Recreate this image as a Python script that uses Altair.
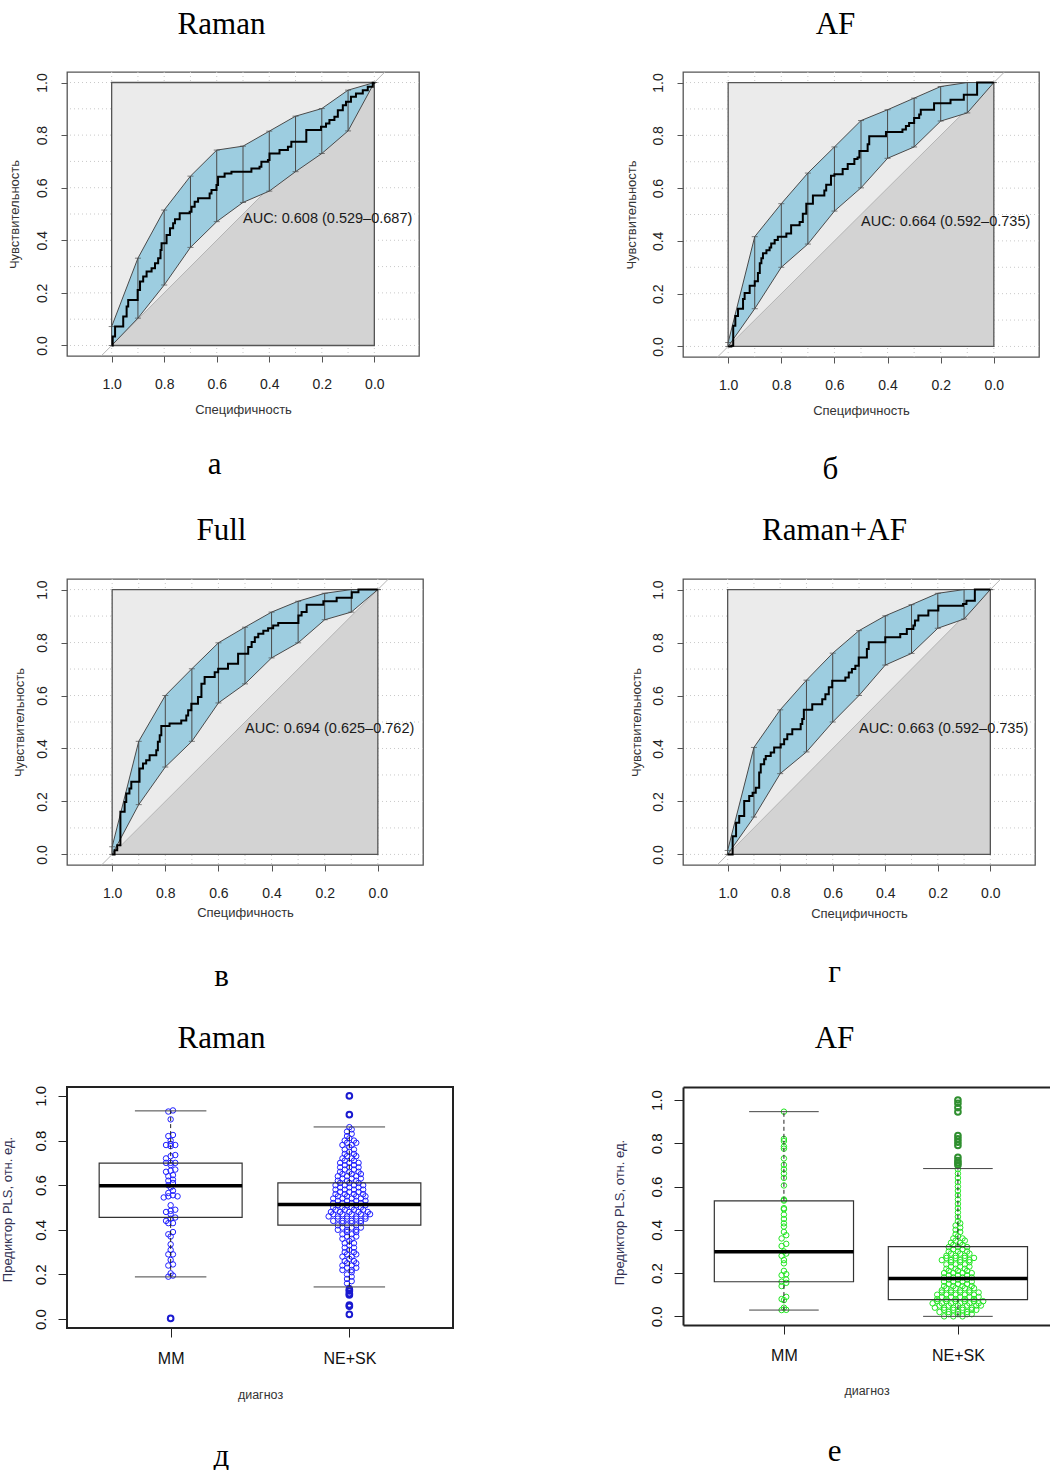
import altair as alt
import pandas as pd

SANS = "Liberation Sans"
SERIF = "Liberation Serif"

# ---------------- texts ----------------
roc_x_title = "Специфичность"
roc_y_title = "Чувствительность"
box_x_title = "диагноз"
box_y_title = "Предиктор PLS, отн. ед."
groups = ["MM", "NE+SK"]

# ---------------- common axis values ----------------
tick_vals = [0.0, 0.2, 0.4, 0.6, 0.8, 1.0]
grid_vals = [0.0, 0.1, 0.2, 0.3, 0.4, 0.5, 0.6, 0.7, 0.8, 0.9, 1.0]
band_spec = [1.0, 0.9, 0.8, 0.7, 0.6, 0.5, 0.4, 0.3, 0.2, 0.1, 0.0]
square_x = [0.0, 1.0]
square_y = [0.0, 1.0]
roc_xlim = [-0.17, 1.17]
roc_ylim = [-0.04, 1.04]

# ---------------- ROC: Raman ----------------
raman_spec = [1.0, 0.996, 0.987, 0.956, 0.943, 0.937, 0.901, 0.892, 0.880, 0.867, 0.848, 0.835,
              0.823, 0.814, 0.810, 0.791, 0.778, 0.766, 0.759, 0.741, 0.703, 0.696, 0.684, 0.671,
              0.627, 0.620, 0.601, 0.595, 0.570, 0.544, 0.468, 0.437, 0.430, 0.405, 0.399, 0.361,
              0.329, 0.316, 0.259, 0.203, 0.184, 0.171, 0.152, 0.139, 0.120, 0.108, 0.089, 0.070,
              0.044, 0.025, 0.006, 0.0]
raman_sens = [0.0, 0.034, 0.072, 0.110, 0.148, 0.173, 0.211, 0.243, 0.262, 0.281, 0.294, 0.313,
              0.332, 0.363, 0.389, 0.420, 0.446, 0.465, 0.480, 0.503, 0.509, 0.528, 0.547, 0.560,
              0.578, 0.591, 0.610, 0.642, 0.654, 0.661, 0.673, 0.680, 0.699, 0.705, 0.730, 0.743,
              0.756, 0.775, 0.819, 0.832, 0.844, 0.857, 0.870, 0.895, 0.914, 0.927, 0.946, 0.958,
              0.971, 0.984, 0.999, 1.0]
raman_low = [0.0, 0.104, 0.230, 0.373, 0.471, 0.544, 0.587, 0.661, 0.730, 0.816, 1.0]
raman_high = [0.072, 0.332, 0.515, 0.644, 0.743, 0.758, 0.815, 0.872, 0.901, 0.971, 1.0]
raman_auc = "AUC: 0.608 (0.529–0.687)"

# ---------------- ROC: AF ----------------
af_spec = [1.0, 0.988, 0.981, 0.973, 0.963, 0.944, 0.938, 0.919, 0.900, 0.888, 0.881, 0.875,
           0.869, 0.856, 0.844, 0.838, 0.825, 0.813, 0.781, 0.763, 0.731, 0.719, 0.706, 0.681,
           0.638, 0.631, 0.613, 0.600, 0.569, 0.550, 0.525, 0.513, 0.506, 0.475, 0.469, 0.406,
           0.344, 0.331, 0.319, 0.300, 0.281, 0.275, 0.225, 0.163, 0.113, 0.063, 0.0]
af_sens = [0.0, 0.003, 0.078, 0.115, 0.143, 0.180, 0.203, 0.230, 0.247, 0.278, 0.315, 0.334,
           0.353, 0.365, 0.375, 0.390, 0.403, 0.416, 0.428, 0.459, 0.472, 0.503, 0.541, 0.572,
           0.591, 0.613, 0.647, 0.653, 0.672, 0.691, 0.710, 0.716, 0.741, 0.766, 0.797, 0.813,
           0.822, 0.835, 0.847, 0.866, 0.879, 0.897, 0.922, 0.935, 0.954, 1.0, 1.0]
af_low = [0.0, 0.143, 0.300, 0.388, 0.513, 0.601, 0.713, 0.756, 0.854, 0.885, 1.0]
af_high = [0.015, 0.416, 0.541, 0.657, 0.756, 0.856, 0.897, 0.941, 0.985, 1.0, 1.0]
af_auc = "AUC: 0.664 (0.592–0.735)"

# ---------------- ROC: Full ----------------
full_spec = [1.0, 0.991, 0.981, 0.969, 0.953, 0.947, 0.935, 0.928, 0.897, 0.884, 0.872, 0.859,
             0.834, 0.828, 0.821, 0.815, 0.784, 0.740, 0.721, 0.714, 0.702, 0.677, 0.664, 0.652,
             0.614, 0.601, 0.564, 0.526, 0.488, 0.475, 0.463, 0.450, 0.431, 0.413, 0.394, 0.375,
             0.299, 0.287, 0.268, 0.205, 0.155, 0.098, 0.073, 0.0]
full_sens = [0.0, 0.016, 0.035, 0.161, 0.198, 0.230, 0.249, 0.274, 0.324, 0.343, 0.356, 0.374,
             0.393, 0.425, 0.450, 0.485, 0.494, 0.506, 0.525, 0.544, 0.569, 0.594, 0.644, 0.670,
             0.688, 0.701, 0.720, 0.758, 0.783, 0.802, 0.820, 0.833, 0.845, 0.854, 0.864, 0.874,
             0.902, 0.915, 0.943, 0.956, 0.969, 0.990, 1.0, 1.0]
full_low = [0.0, 0.188, 0.330, 0.427, 0.572, 0.644, 0.742, 0.799, 0.886, 0.915, 1.0]
full_high = [0.029, 0.427, 0.600, 0.701, 0.799, 0.858, 0.915, 0.956, 0.986, 1.0, 1.0]
full_auc = "AUC: 0.694 (0.625–0.762)"

# ---------------- ROC: Raman+AF ----------------
ra_spec = [1.0, 0.981, 0.968, 0.956, 0.937, 0.918, 0.905, 0.893, 0.880, 0.874, 0.861, 0.855,
           0.836, 0.823, 0.798, 0.785, 0.773, 0.754, 0.722, 0.716, 0.710, 0.678, 0.640, 0.628,
           0.615, 0.602, 0.552, 0.539, 0.527, 0.514, 0.501, 0.470, 0.463, 0.400, 0.343, 0.318,
           0.293, 0.287, 0.274, 0.236, 0.198, 0.104, 0.091, 0.059, 0.0]
ra_sens = [0.0, 0.069, 0.120, 0.145, 0.202, 0.221, 0.233, 0.252, 0.309, 0.340, 0.359, 0.372,
           0.385, 0.404, 0.416, 0.435, 0.454, 0.473, 0.492, 0.511, 0.546, 0.567, 0.586, 0.605,
           0.631, 0.656, 0.668, 0.687, 0.700, 0.712, 0.744, 0.776, 0.801, 0.820, 0.832, 0.851,
           0.864, 0.883, 0.902, 0.921, 0.939, 0.946, 0.958, 1.0, 1.0]
ra_low = [0.0, 0.141, 0.305, 0.387, 0.500, 0.600, 0.715, 0.759, 0.854, 0.889, 1.0]
ra_high = [0.015, 0.404, 0.546, 0.658, 0.760, 0.845, 0.901, 0.943, 0.986, 1.0, 1.0]
ra_auc = "AUC: 0.663 (0.592–0.735)"

auc_pos_x = [0.5, 0.5, 0.5, 0.5]
auc_pos_y = [0.48, 0.472, 0.475, 0.475]

# ---------------- Boxplot: Raman ----------------
box_raman_mm = [0.935, 0.93, 0.895, 0.825, 0.82, 0.80, 0.785, 0.78, 0.78, 0.775, 0.735, 0.73,
                0.72, 0.70, 0.70, 0.70, 0.69, 0.67, 0.665, 0.66, 0.645, 0.64, 0.625, 0.62, 0.61,
                0.60, 0.59, 0.575, 0.565, 0.555, 0.55, 0.55, 0.545, 0.51, 0.49, 0.485, 0.48, 0.47,
                0.455, 0.45, 0.44, 0.43, 0.43, 0.39, 0.38, 0.37, 0.335, 0.31, 0.29, 0.29, 0.265,
                0.245, 0.24, 0.205, 0.195, 0.19]
box_raman_ne_levels = [0.14, 0.15, 0.16, 0.17, 0.18, 0.19, 0.20, 0.21, 0.22, 0.23, 0.24, 0.25,
                       0.26, 0.27, 0.28, 0.29, 0.30, 0.31, 0.32, 0.33, 0.34, 0.35, 0.36, 0.37,
                       0.38, 0.39, 0.40, 0.41, 0.42, 0.43, 0.44, 0.45, 0.46, 0.47, 0.48, 0.49,
                       0.50, 0.51, 0.52, 0.53, 0.54, 0.55, 0.56, 0.57, 0.58, 0.59, 0.60, 0.61,
                       0.62, 0.63, 0.64, 0.65, 0.66, 0.67, 0.68, 0.69, 0.70, 0.71, 0.72, 0.73,
                       0.74, 0.75, 0.76, 0.77, 0.78, 0.79, 0.80, 0.81, 0.82, 0.83, 0.84, 0.85, 0.86]
box_raman_ne_counts = [1, 0, 1, 1, 1, 1, 1, 1, 2, 2, 2, 2,
                       2, 1, 2, 2, 2, 1, 2, 1, 2, 1, 2, 2,
                       2, 2, 3, 3, 3, 3, 4, 4, 5, 5, 5, 4,
                       4, 4, 4, 4, 4, 4, 4, 3, 4, 3, 4, 3,
                       3, 3, 3, 3, 3, 2, 3, 2, 3, 2, 2, 2,
                       2, 1, 2, 1, 2, 2, 2, 1, 1, 1, 1, 1, 1]
box_raman_mm_out = [0.003]
box_raman_ne_out = [1.0, 0.916, 0.133, 0.126, 0.114, 0.108, 0.063, 0.057, 0.021]
# q1, median, q3, lower whisker, upper whisker for MM and NE+SK
box_raman_q1 = [0.456, 0.421]
box_raman_med = [0.598, 0.514]
box_raman_q3 = [0.699, 0.610]
box_raman_lo = [0.189, 0.144]
box_raman_hi = [0.933, 0.861]

# ---------------- Boxplot: AF ----------------
box_af_mm = [0.946, 0.82, 0.81, 0.785, 0.775, 0.73, 0.70, 0.68, 0.66, 0.64, 0.605, 0.54, 0.535,
             0.50, 0.495, 0.47, 0.45, 0.43, 0.415, 0.39, 0.375, 0.36, 0.335, 0.325, 0.30, 0.29,
             0.28, 0.26, 0.245, 0.21, 0.195, 0.19, 0.17, 0.16, 0.155, 0.14, 0.09, 0.08, 0.075,
             0.04, 0.03, 0.029]
box_af_ne_levels = [0.00, 0.01, 0.02, 0.03, 0.04, 0.05, 0.06, 0.07, 0.08, 0.09, 0.10, 0.11,
                    0.12, 0.13, 0.14, 0.15, 0.16, 0.17, 0.18, 0.19, 0.20, 0.21, 0.22, 0.23,
                    0.24, 0.25, 0.26, 0.27, 0.28, 0.29, 0.30, 0.31, 0.32, 0.33, 0.34, 0.35,
                    0.36, 0.37, 0.38, 0.39, 0.40, 0.41, 0.42, 0.43, 0.44, 0.45, 0.46, 0.47,
                    0.48, 0.49, 0.50, 0.51, 0.52, 0.53, 0.54, 0.55, 0.56, 0.57, 0.58, 0.59,
                    0.60, 0.61, 0.62, 0.63, 0.64, 0.65, 0.66, 0.67, 0.68]
box_af_ne_counts = [3, 4, 4, 5, 5, 6, 6, 6, 5, 5, 5, 5,
                    4, 4, 4, 3, 4, 3, 4, 3, 4, 3, 3, 3,
                    3, 3, 4, 4, 3, 3, 3, 2, 3, 2, 2, 2,
                    2, 1, 1, 1, 1, 1, 1, 1, 1, 0, 1, 0,
                    1, 0, 1, 0, 1, 0, 1, 0, 1, 0, 1, 0,
                    1, 0, 1, 0, 1, 0, 1, 0, 1]
box_af_mm_out = []
box_af_ne_out = [1.0, 0.985, 0.965, 0.945, 0.835, 0.82, 0.805, 0.79, 0.735, 0.72, 0.71, 0.70]
box_af_q1 = [0.160, 0.077]
box_af_med = [0.298, 0.175]
box_af_q3 = [0.534, 0.322]
box_af_lo = [0.029, 0.0]
box_af_hi = [0.946, 0.683]

panel_titles = ["Raman", "AF", "Full", "Raman+AF", "Raman", "AF"]
panel_letters = ["а", "б", "в", "г", "д", "е"]


def title_axis(text, tx, ty, domain=False, dcol="#222222"):
    return alt.Axis(orient="top", title=text, labels=False, ticks=False, domain=domain,
                    domainColor=dcol, domainWidth=2, grid=False,
                    titleFont=SERIF, titleFontSize=31, titleFontWeight="normal", titleColor="black",
                    titleX=tx, titleY=ty, titleAlign="center", titleBaseline="alphabetic", titleAngle=0)


def letter_axis(text, lx, ly):
    return alt.Axis(orient="right", title=text, labels=False, ticks=False, domain=False, grid=False,
                    titleFont=SERIF, titleFontSize=31, titleFontWeight="normal", titleColor="black",
                    titleX=lx, titleY=ly, titleAlign="center", titleBaseline="alphabetic", titleAngle=0)


def staircase(spec, sens):
    xs, ys = [spec[0]], [sens[0]]
    for i in range(1, len(spec)):
        xs += [spec[i], spec[i]]
        ys += [sens[i - 1], sens[i]]
    return pd.DataFrame({"spec": xs, "sens": ys, "ord": list(range(len(xs)))})


def roc_panel(idx, spec, sens, low, high, auc, W, H, tx, ty, lx, ly, xty, ytx):
    xs = alt.Scale(domain=roc_xlim, reverse=True, nice=False, zero=False)
    ys = alt.Scale(domain=roc_ylim, nice=False, zero=False)
    grid = pd.DataFrame({"g": grid_vals})
    gh = alt.Chart(grid).mark_rule(color="#c9c9c9", strokeDash=[1, 3], strokeWidth=1).encode(
        y=alt.Y("g:Q", scale=ys, axis=None))
    gv = alt.Chart(grid).mark_rule(color="#c9c9c9", strokeDash=[1, 3], strokeWidth=1).encode(
        x=alt.X("g:Q", scale=xs, axis=None))
    sq = pd.DataFrame({"x0": [square_x[0]], "x1": [square_x[1]], "y0": [square_y[0]], "y1": [square_y[1]]})
    sq_fill = alt.Chart(sq).mark_rect(color="#ebebeb").encode(
        x=alt.X("x0:Q", scale=xs, axis=None), x2="x1:Q",
        y=alt.Y("y0:Q", scale=ys, axis=None), y2="y1:Q")
    tri_df = pd.DataFrame({"s": [square_x[1], square_x[0]], "v": [square_y[0], square_y[1]]})
    tri = alt.Chart(tri_df).mark_area(color="#d3d3d3").encode(
        x=alt.X("s:Q", scale=xs, axis=None), y=alt.Y("v:Q", scale=ys, axis=None), y2=alt.datum(0))
    diag_df = pd.DataFrame({"v": roc_ylim})
    diag = alt.Chart(diag_df).transform_calculate(s="1 - datum.v").mark_line(
        color="#b5b5b5", strokeWidth=1).encode(
        x=alt.X("s:Q", scale=xs, axis=None), y=alt.Y("v:Q", scale=ys, axis=None))
    sq_line = alt.Chart(sq).mark_rect(fillOpacity=0, stroke="#555555", strokeWidth=1.3).encode(
        x=alt.X("x0:Q", scale=xs, axis=None), x2="x1:Q",
        y=alt.Y("y0:Q", scale=ys, axis=None), y2="y1:Q")
    band = pd.DataFrame({"spec": band_spec, "low": low, "high": high})
    b_area = alt.Chart(band).mark_area(color="#9dcde0").encode(
        x=alt.X("spec:Q", scale=xs, axis=None), y=alt.Y("low:Q", scale=ys, axis=None), y2="high:Q")
    b_hi = alt.Chart(band).mark_line(color="#4a4a4a", strokeWidth=1).encode(
        x=alt.X("spec:Q", scale=xs, axis=None), y=alt.Y("high:Q", scale=ys, axis=None))
    b_lo = alt.Chart(band).mark_line(color="#4a4a4a", strokeWidth=1).encode(
        x=alt.X("spec:Q", scale=xs, axis=None), y=alt.Y("low:Q", scale=ys, axis=None))
    bars = alt.Chart(band).mark_rule(color="#4a4a4a", strokeWidth=1).encode(
        x=alt.X("spec:Q", scale=xs, axis=None), y=alt.Y("low:Q", scale=ys, axis=None), y2="high:Q")
    cap_hi = alt.Chart(band).mark_tick(orient="horizontal", size=6, thickness=1, color="#4a4a4a").encode(
        x=alt.X("spec:Q", scale=xs, axis=None), y=alt.Y("high:Q", scale=ys, axis=None))
    cap_lo = alt.Chart(band).mark_tick(orient="horizontal", size=6, thickness=1, color="#4a4a4a").encode(
        x=alt.X("spec:Q", scale=xs, axis=None), y=alt.Y("low:Q", scale=ys, axis=None))
    curve = alt.Chart(staircase(spec, sens)).mark_line(color="black", strokeWidth=2).encode(
        x=alt.X("spec:Q", scale=xs, axis=alt.Axis(
            orient="bottom", values=tick_vals, format=".1f", title=roc_x_title, domain=False, grid=False,
            tickSize=6, tickColor="#555555", tickWidth=1, labelFont=SANS, labelFontSize=14,
            labelColor="#222222", labelPadding=15, labelFlush=False, labelOverlap=False,
            titleFont=SANS, titleFontSize=13, titleFontWeight="normal", titleColor="#333333",
            titleY=xty, titleBaseline="alphabetic")),
        y=alt.Y("sens:Q", scale=ys, axis=alt.Axis(
            orient="left", values=tick_vals, format=".1f", title=roc_y_title, domain=False, grid=False,
            tickSize=6, tickColor="#555555", tickWidth=1, labelFont=SANS, labelFontSize=14,
            labelColor="#222222", labelAngle=270, labelAlign="center", labelBaseline="bottom",
            labelPadding=12, labelFlush=False, labelOverlap=False,
            titleFont=SANS, titleFontSize=13, titleFontWeight="normal", titleColor="#333333",
            titleX=ytx, titleY=H / 2, titleAngle=270, titleAlign="center", titleBaseline="middle")),
        order="ord:Q")
    txt_df = pd.DataFrame({"x": [auc_pos_x[idx]], "y": [auc_pos_y[idx]], "t": [auc]})
    txt = alt.Chart(txt_df).mark_text(align="left", baseline="middle", font=SANS, fontSize=14.5,
                                      color="#1a1a1a").encode(
        x=alt.X("x:Q", scale=xs, axis=title_axis(panel_titles[idx], tx, ty)),
        y=alt.Y("y:Q", scale=ys, axis=letter_axis(panel_letters[idx], lx, ly)),
        text="t:N")
    return alt.layer(gh, gv, sq_fill, tri, diag, sq_line, b_area, b_hi, b_lo, bars, cap_hi, cap_lo,
                     curve, txt).resolve_axis(x="independent", y="independent").properties(
        width=W, height=H, view=alt.ViewBackground(stroke="#555555", strokeWidth=1.3))


def box_panel(idx, mm_vals, ne_levels, ne_counts, mm_out, ne_out, q1, med, q3, lo, hi,
              color, ocolor, W, H, ydom, xmax, framed, tx, ty, lx, ly, xty, ytx, yty):
    xs = alt.Scale(domain=[0.42, xmax], nice=False, zero=False)
    ys = alt.Scale(domain=ydom, nice=False, zero=False)
    rows = [{"pos": 1, "v": v} for v in mm_vals]
    for lv, c in zip(ne_levels, ne_counts):
        rows += [{"pos": 2, "v": lv}] * c
    pts_df = pd.DataFrame(rows)
    sp = 4.6 * (xmax - 0.42) / W
    frame_col = "#222222"
    yaxis = alt.Axis(orient="left", values=tick_vals, format=".1f", title=box_y_title,
                     domain=not framed, domainColor=frame_col, domainWidth=2, grid=False,
                     tickSize=9, tickColor=frame_col, tickWidth=1, labelFont=SANS, labelFontSize=15,
                     labelColor="#111111", labelAngle=270, labelAlign="center", labelBaseline="bottom",
                     labelPadding=10, labelFlush=False, labelOverlap=False,
                     titleFont=SANS, titleFontSize=13, titleFontWeight="normal", titleColor="#333355",
                     titleX=ytx, titleY=yty, titleAngle=270, titleAlign="center", titleBaseline="middle")
    pts = alt.Chart(pts_df).transform_calculate(
        k="floor(datum.v * 50 + 0.000001)").transform_window(
        r0="row_number()", groupby=["pos", "v"]).transform_joinaggregate(
        n="count()", groupby=["pos", "k"]).transform_window(
        r="row_number()", groupby=["pos", "k"],
        sort=[alt.SortField("r0", order="ascending"), alt.SortField("v", order="ascending")]).transform_calculate(
        xp=f"datum.pos + (datum.r - 1 - (datum.n - 1) / 2) * {sp}").mark_point(
        shape="circle", filled=False, size=30, strokeWidth=1, color=color, opacity=1).encode(
        x=alt.X("xp:Q", scale=xs, axis=None), y=alt.Y("v:Q", scale=ys, axis=yaxis))
    out_rows = [{"pos": 1, "v": v} for v in mm_out] + [{"pos": 2, "v": v} for v in ne_out]
    outs = alt.Chart(pd.DataFrame(out_rows)).mark_point(
        shape="circle", filled=False, size=32, strokeWidth=2, color=ocolor, opacity=1).encode(
        x=alt.X("pos:Q", scale=xs, axis=None), y=alt.Y("v:Q", scale=ys, axis=None))
    bdf = pd.DataFrame({"pos": [1, 2], "q1": q1, "med": med, "q3": q3, "lo": lo, "hi": hi})
    base = alt.Chart(bdf).transform_calculate(
        l="datum.pos - 0.4", r="datum.pos + 0.4", cl="datum.pos - 0.2", cr="datum.pos + 0.2")
    box = base.mark_rect(fillOpacity=0, stroke="#333333", strokeWidth=1.2).encode(
        x=alt.X("l:Q", scale=xs, axis=None), x2="r:Q", y=alt.Y("q1:Q", scale=ys, axis=None), y2="q3:Q")
    label_expr = f"datum.value == 1 ? '{groups[0]}' : '{groups[1]}'"
    w_up = base.mark_rule(strokeDash=[4, 3], color="#222222", strokeWidth=1).encode(
        x=alt.X("pos:Q", scale=xs, axis=alt.Axis(
            orient="bottom", values=[1, 2], labelExpr=label_expr, title=box_x_title,
            domain=not framed, domainColor=frame_col, domainWidth=2, grid=False,
            tickSize=9, tickColor=frame_col, tickWidth=1, labelFont=SANS, labelFontSize=16,
            labelColor="#111111", labelPadding=13, labelFlush=False, labelOverlap=False,
            titleFont=SANS, titleFontSize=12.5, titleFontWeight="normal", titleColor="#333333",
            titleY=xty, titleBaseline="alphabetic")),
        y=alt.Y("q3:Q", scale=ys, axis=None), y2="hi:Q")
    w_dn = base.mark_rule(strokeDash=[4, 3], color="#222222", strokeWidth=1).encode(
        x=alt.X("pos:Q", scale=xs, axis=None), y=alt.Y("lo:Q", scale=ys, axis=None), y2="q1:Q")
    cap_hi = base.mark_rule(color="#444444", strokeWidth=1).encode(
        x=alt.X("cl:Q", scale=xs, axis=None), x2="cr:Q",
        y=alt.Y("hi:Q", scale=ys, axis=letter_axis(panel_letters[idx], lx, ly)))
    cap_lo = base.mark_rule(color="#444444", strokeWidth=1).encode(
        x=alt.X("cl:Q", scale=xs, axis=None), x2="cr:Q", y=alt.Y("lo:Q", scale=ys, axis=None))
    tax = title_axis(panel_titles[idx], tx, ty, domain=not framed, dcol=frame_col)
    median = base.mark_rule(color="black", strokeWidth=3.5).encode(
        x=alt.X("l:Q", scale=xs, axis=tax), x2="r:Q", y=alt.Y("med:Q", scale=ys, axis=None))
    view = alt.ViewBackground(stroke=frame_col, strokeWidth=2) if framed else \
        alt.ViewBackground(stroke="transparent", strokeWidth=0)
    return alt.layer(pts, outs, box, w_up, w_dn, cap_hi, cap_lo, median).resolve_axis(
        x="independent", y="independent").properties(width=W, height=H, view=view)


pa = roc_panel(0, raman_spec, raman_sens, raman_low, raman_high, raman_auc, 352, 284,
               154, -39, -205, 401, 57, -53)
pb = roc_panel(1, af_spec, af_sens, af_low, af_high, af_auc, 356, 285,
               152, -39, -209, 406, 57, -52)
pc = roc_panel(2, full_spec, full_sens, full_low, full_high, full_auc, 356, 286,
               154, -40, -202, 406, 51, -48)
pd_ = roc_panel(3, ra_spec, ra_sens, ra_low, ra_high, ra_auc, 352, 286,
                151, -40, -201, 402, 52, -47)
pe = box_panel(4, box_raman_mm, box_raman_ne_levels, box_raman_ne_counts, box_raman_mm_out,
               box_raman_ne_out, box_raman_q1, box_raman_med, box_raman_q3, box_raman_lo,
               box_raman_hi, "#2020ff", "#1a1ad0", 386, 241, [-0.04, 1.04], 2.58, True,
               154, -40, -232, 378, 70, -60, 122)
pf = box_panel(5, box_af_mm, box_af_ne_levels, box_af_ne_counts, box_af_mm_out,
               box_af_ne_out, box_af_q1, box_af_med, box_af_q3, box_af_lo,
               box_af_hi, "#22e622", "#2f8f2f", 367, 238, [-0.04, 1.06], 0.42 + 367 / 174.0, False,
               151, -40, -216, 373, 69, -64, 125)

chart = alt.concat(pa, pb, pc, pd_, pe, pf, columns=2, spacing={"row": 222, "column": 230},
                   bounds="flush", align="each").properties(
    padding={"left": 0, "top": 7, "right": 0, "bottom": 0})

chart.save("out.html", embed_options={"renderer": "svg", "actions": False})
